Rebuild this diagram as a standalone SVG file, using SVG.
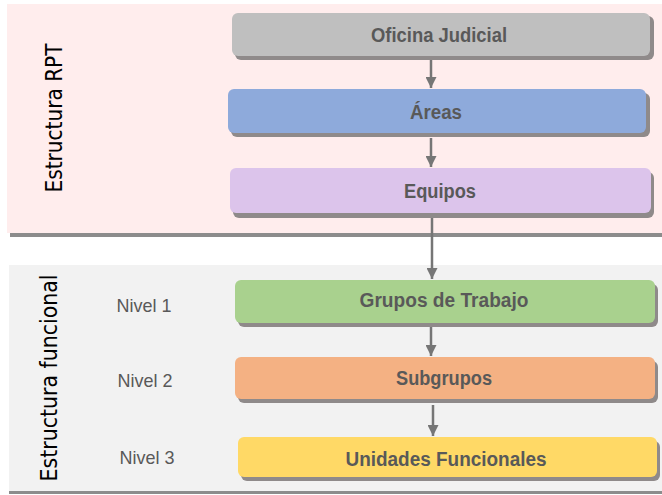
<svg xmlns="http://www.w3.org/2000/svg" width="662" height="495" viewBox="0 0 662 495">
<style>
.node text{font-family:"Liberation Sans",Arial,sans-serif;font-weight:bold;font-size:20px;fill:#595959;text-anchor:middle}
.shadow{fill:#8f8a8a}
.side{font-family:"DejaVu Sans",Verdana,sans-serif;font-size:23px;fill:#000;text-anchor:middle}
.lvl{font-family:"Liberation Sans",Arial,sans-serif;font-size:19px;fill:#595959;text-anchor:middle}
.conn line{stroke:#767676;stroke-width:2.5}
</style>
<defs>
<marker id="ah" viewBox="0 0 10 10" refX="10" refY="5" markerWidth="4.4" markerHeight="4.4" orient="auto" markerUnits="strokeWidth">
<path d="M0,0 L10,5 L0,10 z" fill="#767676"/>
</marker>
</defs>
<rect width="662" height="495" fill="#ffffff"/>
<!-- panels -->
<rect x="7" y="4" width="655" height="229" fill="#ffeded"/>
<rect x="10" y="233" width="652" height="4" fill="#8c8c8c"/>
<rect x="9" y="265" width="653" height="227" fill="#f2f2f2"/>
<rect x="9" y="491" width="653" height="3" fill="#8c8c8c"/>
<text class="side" transform="translate(62,118) rotate(-90)" textLength="149" lengthAdjust="spacingAndGlyphs">Estructura RPT</text>
<text class="side" transform="translate(57,378) rotate(-90)" textLength="207" lengthAdjust="spacingAndGlyphs">Estructura funcional</text>
<text class="lvl" x="144" y="312" textLength="55" lengthAdjust="spacingAndGlyphs">Nivel 1</text>
<text class="lvl" x="145" y="387" textLength="55" lengthAdjust="spacingAndGlyphs">Nivel 2</text>
<text class="lvl" x="147" y="464" textLength="55" lengthAdjust="spacingAndGlyphs">Nivel 3</text>
<g class="conn">
<line x1="431" y1="60" x2="431" y2="88" marker-end="url(#ah)"/>
<line x1="431" y1="138" x2="431" y2="167" marker-end="url(#ah)"/>
<line x1="432" y1="218" x2="432" y2="279" marker-end="url(#ah)"/>
<line x1="431" y1="326" x2="431" y2="356" marker-end="url(#ah)"/>
<line x1="433" y1="405" x2="433" y2="436" marker-end="url(#ah)"/>
</g>
<g id="oficina" class="node">
<rect class="shadow" x="235" y="16" width="419" height="44" rx="6"/>
<rect x="232" y="13" width="418" height="43" rx="6" fill="#bfbfbf"/>
<text x="439" y="42" textLength="136" lengthAdjust="spacingAndGlyphs">Oficina Judicial</text>
</g>
<g id="areas" class="node">
<rect class="shadow" x="231" y="93" width="419" height="44" rx="6"/>
<rect x="228" y="89" width="418" height="44" rx="6" fill="#8eaadb"/>
<text x="436" y="119" textLength="52" lengthAdjust="spacingAndGlyphs">Áreas</text>
</g>
<g id="equipos" class="node">
<rect class="shadow" x="233" y="172" width="421" height="46" rx="6"/>
<rect x="230" y="168" width="421" height="45" rx="6" fill="#dcc4eb"/>
<text x="440" y="198" textLength="72" lengthAdjust="spacingAndGlyphs">Equipos</text>
</g>
<g id="grupos" class="node">
<rect class="shadow" x="238" y="284" width="420" height="43" rx="6"/>
<rect x="235" y="280" width="420" height="43" rx="6" fill="#a9d18e"/>
<text x="444" y="307" textLength="169" lengthAdjust="spacingAndGlyphs">Grupos de Trabajo</text>
</g>
<g id="subgrupos" class="node">
<rect class="shadow" x="238" y="361" width="420" height="42" rx="6"/>
<rect x="235" y="357" width="420" height="42" rx="6" fill="#f4b183"/>
<text x="444" y="385" textLength="96" lengthAdjust="spacingAndGlyphs">Subgrupos</text>
</g>
<g id="unidades" class="node">
<rect class="shadow" x="241" y="441" width="419" height="40" rx="6"/>
<rect x="238" y="437" width="419" height="40" rx="6" fill="#ffd966"/>
<text x="446" y="466" textLength="201" lengthAdjust="spacingAndGlyphs">Unidades Funcionales</text>
</g>
</svg>
